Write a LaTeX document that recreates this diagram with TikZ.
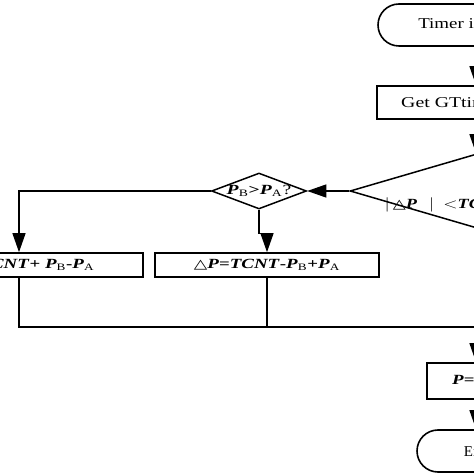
\documentclass[tikz,border=0pt]{standalone}
\usepackage{fontspec}
\usepackage{graphicx}
\setmainfont{Liberation Serif}
\newfontfamily\symf{DejaVu Sans}
\usetikzlibrary{arrows.meta,shapes.geometric}
\newcommand{\bi}[1]{\textbf{\textit{#1}}}
\newcommand{\tri}{{\symf\fontsize{13}{15}\selectfont △}}
\newcommand{\wtxt}[2][1.35]{\scalebox{#1}[1]{#2}}
\begin{document}
\begin{tikzpicture}[x=1pt,y=1pt,
  boxst/.style={draw,line width=1.6pt,inner sep=0pt,font=\fontsize{14}{16}\selectfont},
  termst/.style={boxst,rounded corners=21pt,font=\fontsize{15}{18}\selectfont},
  diast/.style={draw,diamond,line width=1.5pt,inner sep=0pt},
  conn/.style={line width=1.2pt},
  arr/.style={conn,-{Triangle[length=19pt,width=13pt]}}]
\useasboundingbox (0,0) rectangle (474,474);
\node[termst,minimum width=196pt,minimum height=42pt] (start) at (476,449) {\wtxt[1.26]{Timer interrupt}};
\node[boxst,minimum width=198pt,minimum height=33pt,font=\fontsize{15}{18}\selectfont] (get) at (476,371.5) {\wtxt[1.32]{Get GTtimer value}};
\node[diast,minimum width=252pt,minimum height=74pt] (dec) at (476,283) {};
\node[anchor=west,font=\fontsize{14}{16}\selectfont] (dectext) at (381,269) {\wtxt[1.3]{$|$\,\tri\bi{P}\ \ \,$|$\ \ $<$\bi{TCNT}/2?}};
\node[diast,minimum width=95pt,minimum height=36pt] (sdec) at (259,283) {};
\node[font=\fontsize{14}{16}\selectfont] (sdectext) at (259,283) {\wtxt[1.4]{\bi{P}\textsubscript{B}\textbf{>}\bi{P}\textsubscript{A}?}};
\node[boxst,minimum width=248pt,minimum height=24pt] (lbox) at (19,209) {\wtxt{\tri\bi{P}\textbf{=}\bi{TCNT}\textbf{+} \bi{P}\textsubscript{B}\textbf{-}\bi{P}\textsubscript{A}}};
\node[boxst,minimum width=224pt,minimum height=24pt] (rbox) at (267,209) {\wtxt{\tri\bi{P}\textbf{=}\bi{TCNT}\textbf{-}\bi{P}\textsubscript{B}\textbf{+}\bi{P}\textsubscript{A}}};
\node[boxst,minimum width=98pt,minimum height=36pt] (pbox) at (476,93) {\wtxt{\bi{P}\textbf{=}\tri\bi{P}}};
\node[termst,minimum width=118pt,minimum height=42pt] (stop) at (476,23) {End};
\coordinate (join) at (476,147);
\draw[arr] (start) -- (get);
\draw[arr] (get) -- (dec.north);
\draw[arr] (dec.west) -- (sdec.east);
\draw[arr] (sdec.west) -| (lbox.north);
\draw[arr] (sdec.south) -- ++(0,-24) -| (rbox.north);
\draw[conn] (lbox.south) |- (join);
\draw[conn] (rbox.south) -- (rbox.south |- join);
\draw[arr] (join) -- (pbox.north);
\draw[arr] (pbox) -- (stop);
\end{tikzpicture}
\end{document}
